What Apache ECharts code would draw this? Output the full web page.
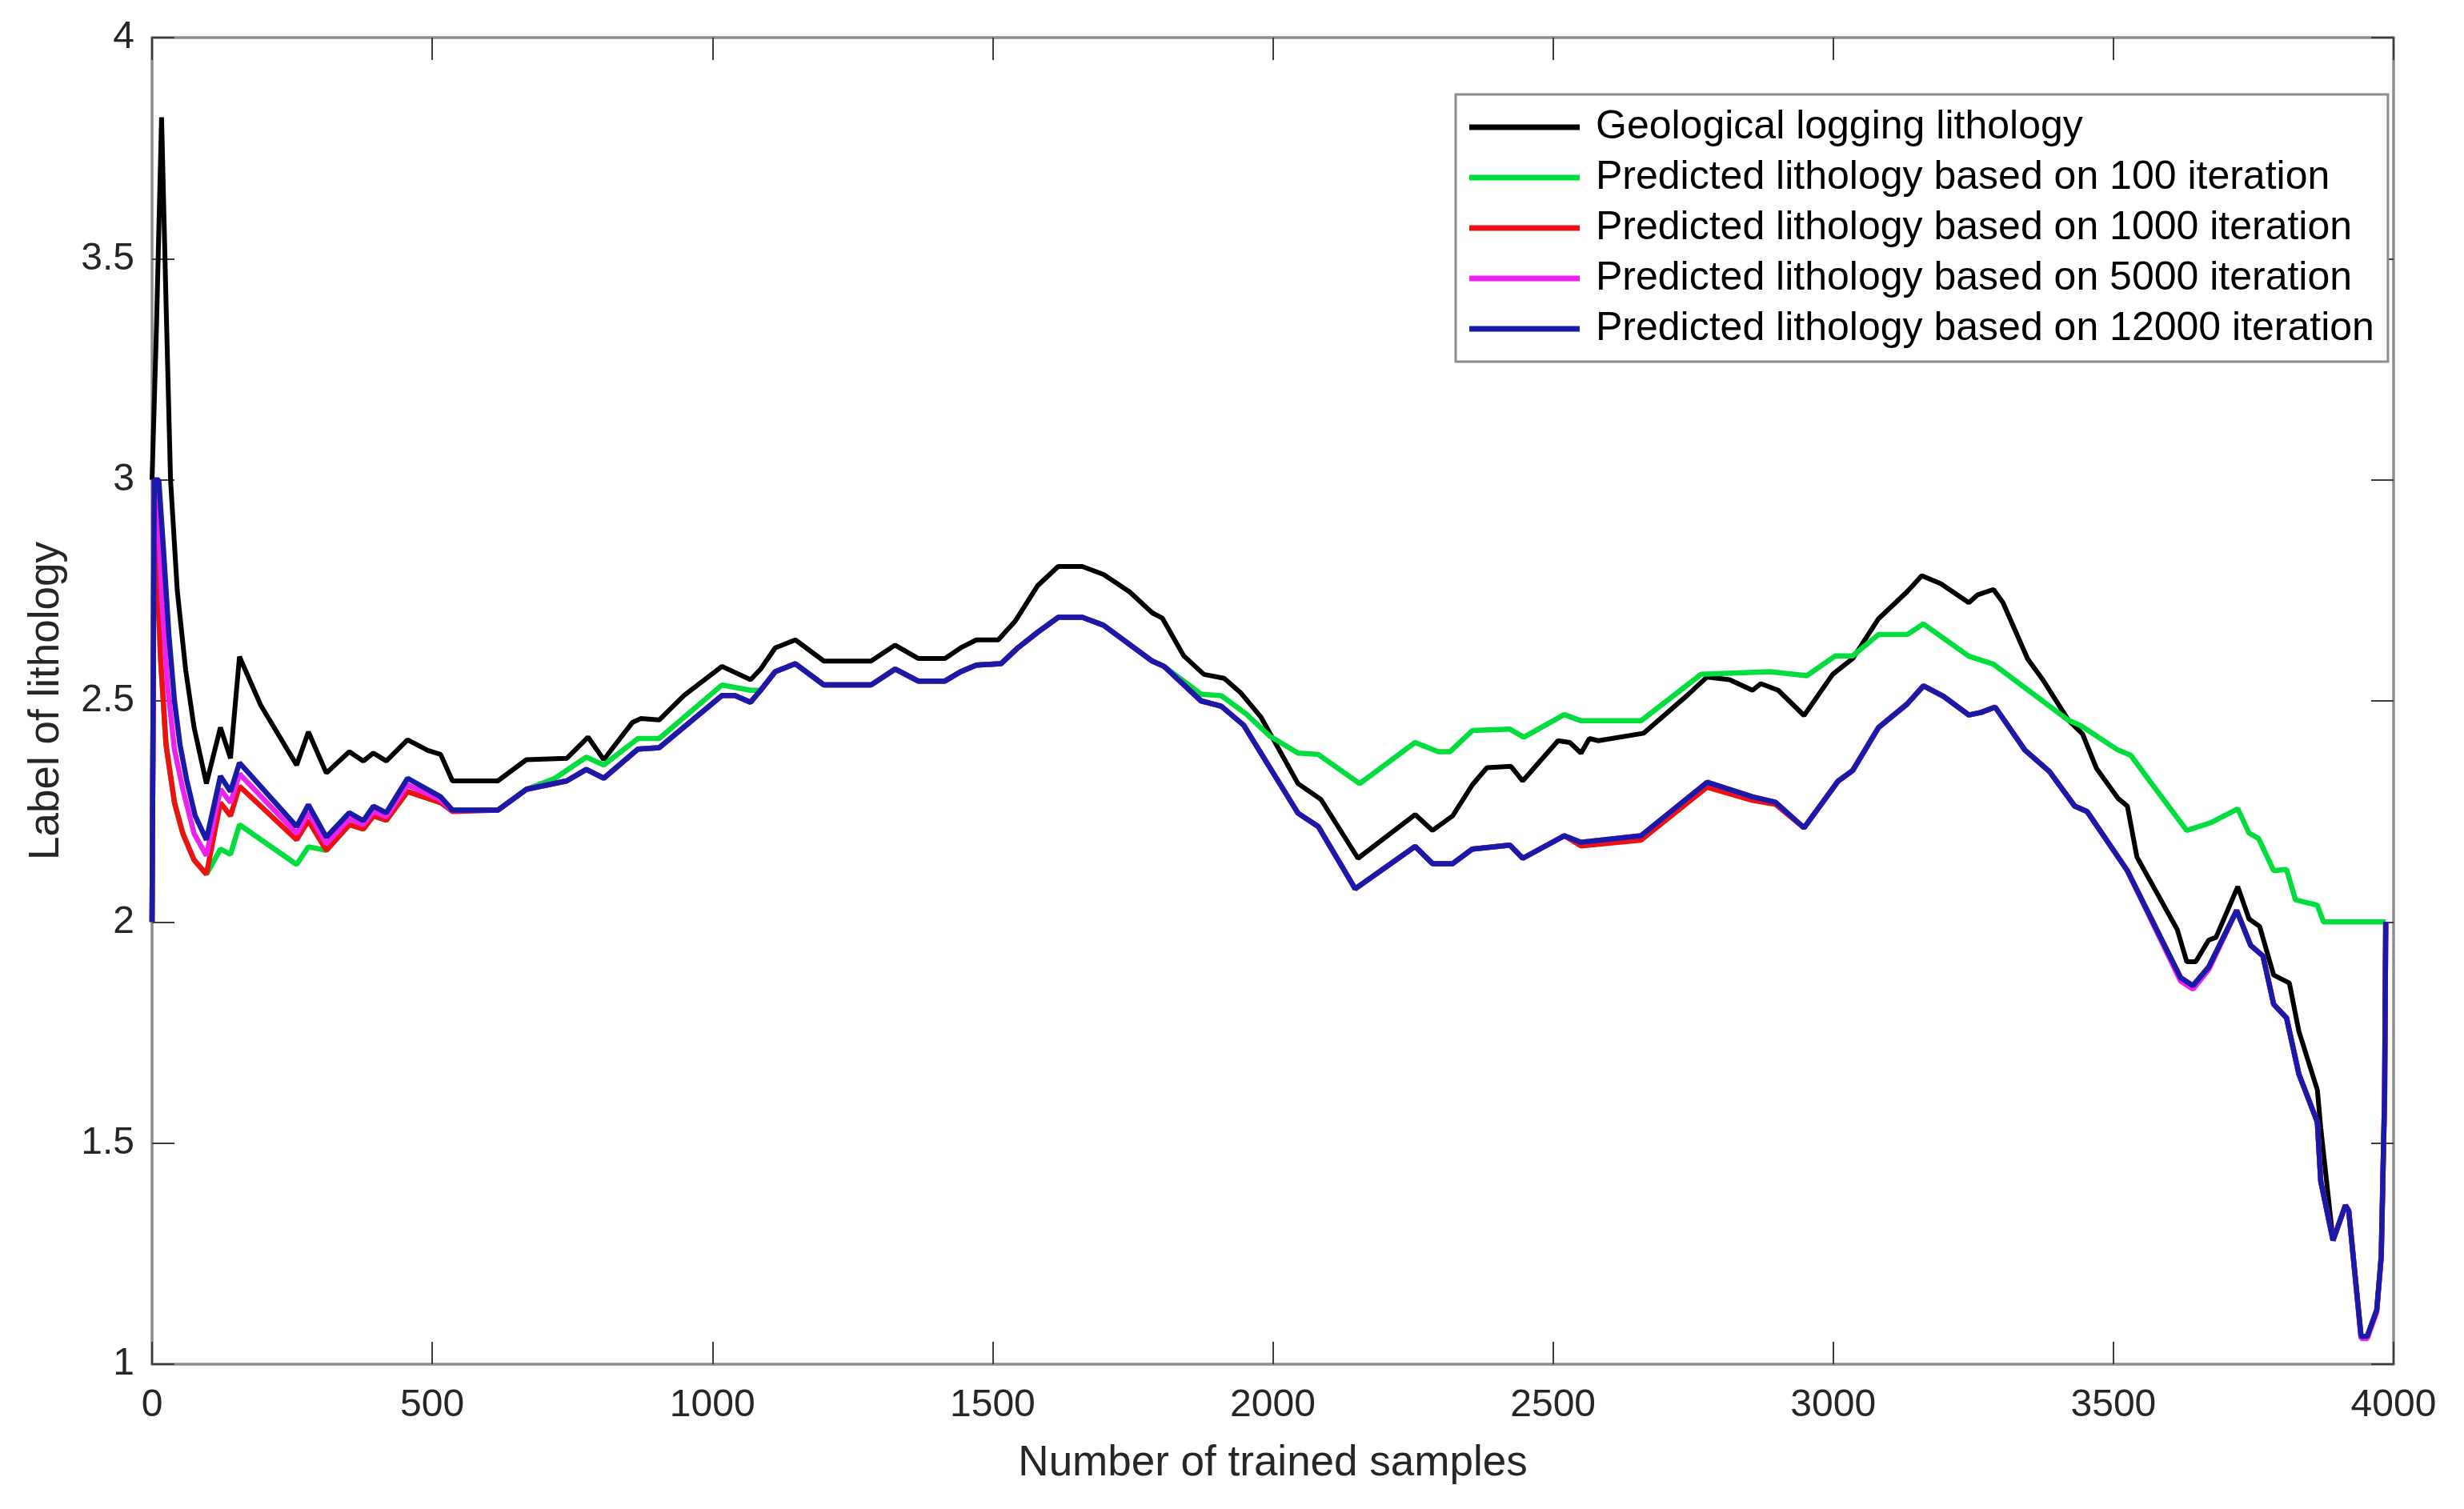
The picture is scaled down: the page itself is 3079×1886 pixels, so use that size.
<!DOCTYPE html>
<html>
<head>
<meta charset="utf-8">
<script src="https://cdn.jsdelivr.net/npm/echarts@6/dist/echarts.min.js"></script>
<style>
html,body{margin:0;padding:0;background:#fff;}
#chart{width:3079px;height:1886px;}
</style>
</head>
<body>
<div id="chart"></div>
<script>
// ---- data (x = number of trained samples, y = label of lithology) ----
var seriesNames = [
  'Geological logging lithology',
  'Predicted lithology based on 100 iteration',
  'Predicted lithology based on 1000 iteration',
  'Predicted lithology based on 5000 iteration',
  'Predicted lithology based on 12000 iteration'
];
var xTicks = [0, 500, 1000, 1500, 2000, 2500, 3000, 3500, 4000];
var yTicks = [1, 1.5, 2, 2.5, 3, 3.5, 4];

var geological = [
[0,3.0],[8,3.35],[17,3.82],[25,3.4],[33,3.0],[45,2.75],[60,2.57],[75,2.44],[97,2.313],[122,2.44],[140,2.37],[156,2.60],[194,2.49],[258,2.355],[279,2.43],[311,2.337],[352,2.385],[377,2.364],[395,2.382],[418,2.364],[456,2.412],[492,2.388],[515,2.379],[536,2.319],[617,2.319],[668,2.367],[740,2.37],[778,2.418],[806,2.367],[857,2.451],[872,2.46],[905,2.457],[949,2.512],[1017,2.578],[1068,2.548],[1086,2.572],[1112,2.62],[1148,2.638],[1199,2.59],[1283,2.59],[1326,2.626],[1367,2.596],[1415,2.596],[1443,2.62],[1471,2.638],[1510,2.638],[1540,2.68],[1580,2.76],[1617,2.804],[1660,2.804],[1698,2.786],[1744,2.747],[1785,2.699],[1803,2.687],[1841,2.602],[1877,2.56],[1913,2.551],[1943,2.518],[1979,2.463],[2045,2.313],[2086,2.277],[2152,2.144],[2254,2.243],[2285,2.207],[2321,2.24],[2356,2.31],[2382,2.349],[2425,2.352],[2446,2.319],[2509,2.41],[2530,2.406],[2550,2.382],[2565,2.415],[2581,2.41],[2662,2.427],[2739,2.512],[2775,2.554],[2815,2.548],[2856,2.524],[2871,2.539],[2902,2.524],[2948,2.467],[2999,2.56],[3035,2.596],[3081,2.686],[3132,2.747],[3158,2.783],[3192,2.765],[3242,2.722],[3258,2.74],[3286,2.752],[3303,2.722],[3347,2.595],[3375,2.546],[3420,2.456],[3445,2.425],[3470,2.347],[3508,2.28],[3525,2.262],[3542,2.147],[3614,1.983],[3631,1.91],[3647,1.91],[3670,1.959],[3683,1.965],[3722,2.08],[3742,2.007],[3761,1.99],[3786,1.88],[3814,1.862],[3831,1.753],[3864,1.62],[3870,1.535],[3892,1.28],[3914,1.359],[3920,1.347],[3942,1.063],[3953,1.063],[3970,1.123],[3978,1.244],[3984,1.608],[3986,2.0]
];

var pred100 = [
[0,2.0],[4,3.0],[8,2.85],[15,2.6],[25,2.4],[40,2.27],[55,2.2],[75,2.14],[97,2.108],[107,2.13],[122,2.165],[140,2.153],[156,2.22],[258,2.13],[279,2.17],[311,2.162],[352,2.22],[377,2.21],[395,2.24],[418,2.23],[456,2.295],[515,2.27],[536,2.253],[617,2.253],[668,2.30],[719,2.325],[775,2.373],[806,2.355],[867,2.415],[905,2.415],[1017,2.536],[1068,2.524],[1086,2.524],[1112,2.566],[1148,2.584],[1199,2.536],[1283,2.536],[1326,2.572],[1367,2.545],[1415,2.545],[1443,2.566],[1471,2.581],[1515,2.584],[1545,2.62],[1580,2.655],[1617,2.689],[1660,2.689],[1698,2.671],[1785,2.59],[1806,2.578],[1872,2.515],[1908,2.512],[1953,2.47],[1994,2.421],[2045,2.382],[2081,2.379],[2155,2.313],[2254,2.406],[2295,2.385],[2316,2.385],[2356,2.433],[2423,2.436],[2448,2.418],[2520,2.469],[2550,2.455],[2657,2.455],[2764,2.56],[2887,2.566],[2953,2.557],[3004,2.602],[3035,2.602],[3081,2.65],[3132,2.65],[3161,2.674],[3242,2.601],[3286,2.583],[3420,2.456],[3442,2.444],[3508,2.389],[3531,2.377],[3570,2.31],[3631,2.207],[3675,2.225],[3722,2.256],[3742,2.201],[3759,2.189],[3786,2.116],[3809,2.119],[3825,2.05],[3864,2.038],[3875,2.0],[3986,2.0]
];

var pred1000 = [
[0,2.0],[4,3.0],[8,2.85],[15,2.6],[25,2.4],[40,2.27],[55,2.2],[75,2.14],[97,2.108],[122,2.27],[140,2.24],[156,2.307],[258,2.186],[279,2.229],[311,2.162],[352,2.22],[377,2.21],[395,2.24],[418,2.23],[456,2.295],[515,2.27],[536,2.25],[617,2.253],[668,2.30],[740,2.319],[775,2.345],[806,2.325],[867,2.391],[905,2.394],[1017,2.512],[1040,2.512],[1068,2.497],[1086,2.524],[1112,2.566],[1148,2.584],[1199,2.536],[1283,2.536],[1326,2.572],[1367,2.545],[1415,2.545],[1443,2.566],[1471,2.581],[1515,2.584],[1545,2.62],[1580,2.655],[1617,2.689],[1660,2.689],[1698,2.671],[1785,2.59],[1806,2.578],[1872,2.50],[1908,2.488],[1948,2.445],[2045,2.246],[2081,2.216],[2147,2.075],[2254,2.171],[2285,2.132],[2321,2.132],[2356,2.165],[2423,2.174],[2446,2.144],[2520,2.195],[2550,2.172],[2657,2.185],[2775,2.305],[2856,2.275],[2897,2.266],[2948,2.213],[3009,2.319],[3035,2.343],[3081,2.44],[3132,2.493],[3161,2.534],[3197,2.51],[3242,2.468],[3264,2.474],[3289,2.486],[3342,2.389],[3386,2.34],[3431,2.262],[3453,2.25],[3525,2.116],[3620,1.874],[3642,1.856],[3670,1.898],[3720,2.026],[3745,1.947],[3767,1.923],[3786,1.814],[3809,1.783],[3831,1.656],[3864,1.547],[3870,1.414],[3892,1.28],[3914,1.359],[3920,1.347],[3942,1.063],[3953,1.063],[3970,1.123],[3978,1.244],[3984,1.608],[3986,2.0]
];

var pred5000 = [
[0,2.0],[4,3.0],[10,2.95],[18,2.72],[28,2.53],[40,2.39],[55,2.3],[75,2.2],[97,2.15],[122,2.30],[140,2.27],[156,2.335],[258,2.2],[279,2.247],[311,2.177],[352,2.233],[377,2.22],[395,2.25],[418,2.238],[456,2.31],[515,2.276],[536,2.252],[617,2.253],[668,2.30],[740,2.319],[775,2.345],[806,2.325],[867,2.391],[905,2.394],[1017,2.512],[1040,2.512],[1068,2.497],[1086,2.524],[1112,2.566],[1148,2.584],[1199,2.536],[1283,2.536],[1326,2.572],[1367,2.545],[1415,2.545],[1443,2.566],[1471,2.581],[1515,2.584],[1545,2.62],[1580,2.655],[1617,2.689],[1660,2.689],[1698,2.671],[1785,2.59],[1806,2.578],[1872,2.50],[1908,2.488],[1948,2.445],[2045,2.246],[2081,2.216],[2147,2.075],[2254,2.171],[2285,2.132],[2321,2.132],[2356,2.165],[2423,2.174],[2446,2.144],[2520,2.195],[2550,2.18],[2657,2.195],[2775,2.316],[2856,2.283],[2897,2.271],[2948,2.213],[3009,2.319],[3035,2.343],[3081,2.44],[3132,2.493],[3161,2.534],[3197,2.51],[3242,2.468],[3264,2.474],[3289,2.486],[3342,2.389],[3386,2.34],[3431,2.262],[3453,2.25],[3525,2.116],[3620,1.866],[3642,1.848],[3670,1.892],[3720,2.026],[3745,1.947],[3767,1.923],[3786,1.814],[3809,1.783],[3831,1.656],[3864,1.547],[3870,1.414],[3892,1.28],[3914,1.359],[3920,1.347],[3942,1.058],[3953,1.058],[3970,1.118],[3978,1.244],[3984,1.608],[3986,2.0]
];

var pred12000 = [
[0,2.0],[4,3.0],[12,3.0],[20,2.85],[30,2.65],[40,2.5],[50,2.4],[62,2.32],[77,2.24],[97,2.186],[122,2.33],[140,2.295],[156,2.36],[258,2.216],[279,2.265],[311,2.192],[352,2.247],[377,2.229],[395,2.262],[418,2.247],[456,2.325],[515,2.283],[536,2.253],[617,2.253],[668,2.30],[740,2.319],[775,2.345],[806,2.325],[867,2.391],[905,2.394],[1017,2.512],[1040,2.512],[1068,2.497],[1086,2.524],[1112,2.566],[1148,2.584],[1199,2.536],[1283,2.536],[1326,2.572],[1367,2.545],[1415,2.545],[1443,2.566],[1471,2.581],[1515,2.584],[1545,2.62],[1580,2.655],[1617,2.689],[1660,2.689],[1698,2.671],[1785,2.59],[1806,2.578],[1872,2.50],[1908,2.488],[1948,2.445],[2045,2.246],[2081,2.216],[2147,2.075],[2254,2.171],[2285,2.132],[2321,2.132],[2356,2.165],[2423,2.174],[2446,2.144],[2520,2.195],[2550,2.18],[2657,2.195],[2775,2.316],[2856,2.283],[2897,2.271],[2948,2.213],[3009,2.319],[3035,2.343],[3081,2.44],[3132,2.493],[3161,2.534],[3197,2.51],[3242,2.468],[3264,2.474],[3289,2.486],[3342,2.389],[3386,2.34],[3431,2.262],[3453,2.25],[3525,2.116],[3620,1.874],[3642,1.856],[3670,1.898],[3720,2.026],[3745,1.947],[3767,1.923],[3786,1.814],[3809,1.783],[3831,1.656],[3864,1.547],[3870,1.414],[3892,1.28],[3914,1.359],[3920,1.347],[3942,1.063],[3953,1.063],[3970,1.123],[3978,1.244],[3984,1.608],[3986,2.0]
];

var seriesData = [geological, pred100, pred1000, pred5000, pred12000];
var seriesColors = ['#000000', '#00dd3c', '#ee1111', '#ee22ee', '#1a1aa8'];

// ---- chart ----
var FONT = '"Liberation Sans", Arial, Helvetica, sans-serif';
var axisLineStyle = {color: '#8c8c8c', width: 3.5};
var tickStyle = {color: '#3c3c3c', width: 2};

function xAx(pos, showLabel) {
  return {
    type: 'value', position: pos, min: xTicks[0], max: xTicks[xTicks.length - 1],
    interval: xTicks[1] - xTicks[0],
    axisLine: {show: true, onZero: false, lineStyle: axisLineStyle},
    axisTick: {show: true, inside: true, length: 28, lineStyle: tickStyle},
    axisLabel: {show: showLabel, fontSize: 48, color: '#262626', margin: 28, fontFamily: FONT,
      formatter: function (v) { return String(v); }},
    splitLine: {show: false},
    name: showLabel ? 'Number of trained samples' : '',
    nameLocation: 'middle', nameGap: 98,
    nameTextStyle: {fontSize: 53, color: '#262626', fontFamily: FONT}
  };
}
function yAx(pos, showLabel) {
  return {
    type: 'value', position: pos, min: yTicks[0], max: yTicks[yTicks.length - 1],
    interval: yTicks[1] - yTicks[0],
    axisLine: {show: true, onZero: false, lineStyle: axisLineStyle},
    axisTick: {show: true, inside: true, length: 28, lineStyle: tickStyle},
    axisLabel: {show: showLabel, fontSize: 48, color: '#262626', margin: 22, fontFamily: FONT,
      formatter: function (v) { return String(v); }},
    splitLine: {show: false},
    name: showLabel ? 'Label of lithology' : '',
    nameLocation: 'middle', nameGap: 105,
    nameTextStyle: {fontSize: 53, color: '#262626', fontFamily: FONT}
  };
}

var series = seriesNames.map(function (name, i) {
  return {
    name: name, type: 'line', data: seriesData[i],
    xAxisIndex: 0, yAxisIndex: 0,
    showSymbol: false, symbol: 'none', smooth: false,
    lineStyle: {color: seriesColors[i], width: i === 0 ? 6 : 6.5},
    itemStyle: {color: seriesColors[i]},
    z: 2 + i
  };
});

var chart = echarts.init(document.getElementById('chart'), null, {renderer: 'canvas'});
chart.setOption({
  animation: false,
  backgroundColor: '#ffffff',
  grid: {left: 190, right: 88, top: 47, bottom: 181, containLabel: false},
  legend: {
    data: seriesNames,
    orient: 'vertical',
    left: 1819, top: 118,
    padding: [16, 17, 16, 17],
    itemGap: 13,
    itemWidth: 138, itemHeight: 7,
    icon: 'rect',
    backgroundColor: '#ffffff',
    borderColor: '#8c8c8c', borderWidth: 3,
    textStyle: {fontSize: 50, lineHeight: 50, color: '#000000', fontFamily: FONT, padding: [0, 0, 0, 15]}
  },
  xAxis: [xAx('bottom', true), xAx('top', false)],
  yAxis: [yAx('left', true), yAx('right', false)],
  series: series
});
</script>
</body>
</html>
